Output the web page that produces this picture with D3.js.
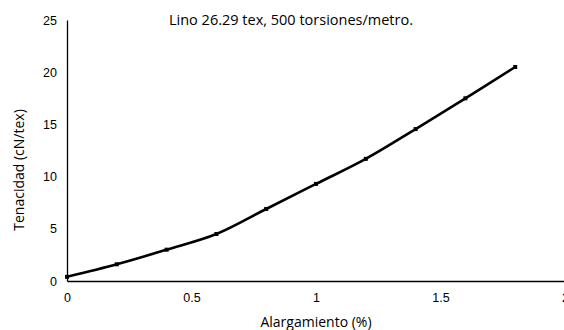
<!DOCTYPE html>
<html>
<head>
<meta charset="utf-8">
<script src="https://cdn.jsdelivr.net/npm/d3@7"></script>
<style>
  body { margin: 0; background: #fff; }
  svg { font-family: "Open Sans", "Noto Sans", sans-serif; }
</style>
</head>
<body>
<div id="chart"></div>
<script>
// data
const alargamiento = [0, 0.2, 0.4, 0.6, 0.8, 1.0, 1.2, 1.4, 1.6, 1.8];
const tenacidad = [0.4, 1.6, 3.0, 4.5, 6.9, 9.3, 11.7, 14.55, 17.5, 20.5];
const xTicks = [0, 0.5, 1, 1.5, 2];
const yTicks = [0, 5, 10, 15, 20, 25];

const width = 564, height = 330;
const margin = { top: 20, right: -1, bottom: 49, left: 67 };

const svg = d3.select("#chart")
  .append("svg")
  .attr("width", width)
  .attr("height", height);

const x = d3.scaleLinear().domain([0, 2]).range([margin.left, width - margin.right]);
const y = d3.scaleLinear().domain([0, 25]).range([height - margin.bottom, margin.top]);

// y axis
const yAxis = svg.append("g")
  .attr("transform", `translate(${margin.left},0)`)
  .call(d3.axisLeft(y).tickValues(yTicks).tickSize(0).tickPadding(10).tickFormat(d3.format("d")));
yAxis.select(".domain").attr("stroke", "#000").attr("stroke-width", 1.3);
yAxis.selectAll("text").attr("font-size", 12.5).attr("fill", "#000");

// x axis
const xAxis = svg.append("g")
  .attr("transform", `translate(0,${y(0)})`)
  .call(d3.axisBottom(x).tickValues(xTicks).tickSize(0).tickPadding(12).tickFormat(d => d));
xAxis.select(".domain").attr("stroke", "#000").attr("stroke-width", 1.3);
xAxis.selectAll("text").attr("font-size", 12.5).attr("fill", "#000");

const pts = alargamiento.map((d, i) => [d, tenacidad[i]]);

const line = d3.line()
  .x(d => x(d[0]))
  .y(d => y(d[1]))
  .curve(d3.curveCatmullRom.alpha(0.5));

svg.append("path")
  .datum(pts)
  .attr("d", line)
  .attr("fill", "none")
  .attr("stroke", "#000")
  .attr("stroke-width", 2.6);

svg.selectAll("rect.pt")
  .data(pts)
  .enter()
  .append("rect")
  .attr("class", "pt")
  .attr("x", d => x(d[0]) - 2)
  .attr("y", d => y(d[1]) - 2)
  .attr("width", 4)
  .attr("height", 4)
  .attr("fill", "#000");

// title and axis labels
svg.append("text")
  .attr("x", 291)
  .attr("y", 25)
  .attr("text-anchor", "middle")
  .attr("font-size", 14.5)
  .text("Lino 26.29 tex, 500 torsiones/metro.");

svg.append("text")
  .attr("x", 316)
  .attr("y", 327)
  .attr("text-anchor", "middle")
  .attr("font-size", 14)
  .text("Alargamiento (%)");

svg.append("text")
  .attr("transform", "translate(24,170) rotate(-90)")
  .attr("text-anchor", "middle")
  .attr("font-size", 14)
  .text("Tenacidad (cN/tex)");
</script>
</body>
</html>
